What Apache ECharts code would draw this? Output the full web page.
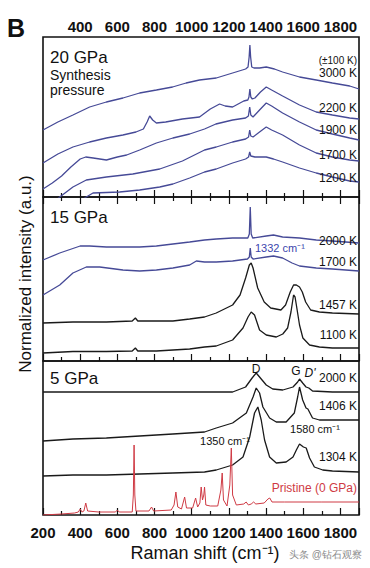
<!DOCTYPE html>
<html><head><meta charset="utf-8">
<script src="https://cdn.jsdelivr.net/npm/echarts@6/dist/echarts.min.js"></script>
<style>html,body{margin:0;padding:0;background:#fff}#c{width:370px;height:568px}</style>
</head><body><div id="c"></div>
<script>
// ---- tick labels (Raman shift, cm-1) ----
const xTickLabels = [200, 400, 600, 800, 1000, 1200, 1400, 1600, 1800];
const xMin = 200, xMax = 1900;

// ---- 20 GPa panel: [Raman shift, normalized intensity (offset)] ----
const p20_3000K = [[200,67],[280,75],[361,82],[451,90],[541,95],[630,99],[720,104],[810,107],[897,110],[970,114],[1042,117],[1132,119],[1220,124],[1290,128],[1303,130],[1309,140],[1313,152],[1317,140],[1323,130],[1335,129],[1365,129],[1401,130],[1445,128],[1489,125],[1580,120],[1670,117],[1757,114],[1850,111],[1900,108]];
const p20_2200K = [[200,34],[280,43],[361,50],[451,55],[541,59],[630,62],[700,65],[740,68],[760,75],[774,81],[790,77],[810,74],[860,75],[950,78],[1042,80],[1100,88],[1150,93],[1180,91],[1220,90],[1280,96],[1302,97],[1308,100],[1313,108],[1318,100],[1326,98],[1340,99],[1370,105],[1401,110],[1430,107],[1489,101],[1580,92],[1670,85],[1757,82],[1850,79],[1900,78]];
const p20_1900K = [[200,8],[250,14],[300,21],[350,30],[400,38],[430,40],[470,39],[541,37],[600,40],[650,42],[720,47],[810,54],[899,59],[989,63],[1069,68],[1130,73],[1220,77],[1290,79],[1305,81],[1312,90],[1318,82],[1330,80],[1365,87],[1401,94],[1430,91],[1489,84],[1580,75],[1670,67],[1757,63],[1850,59],[1900,57]];
const p20_1700K = [[200,-14],[250,-6],[290,0],[361,10],[433,17],[541,20],[683,23],[828,28],[950,36],[1069,47],[1132,50],[1220,55],[1290,58],[1306,60],[1312,67],[1318,61],[1330,60],[1365,65],[1401,70],[1430,67],[1489,62],[1580,52],[1670,44],[1757,40],[1850,37],[1900,36]];
const p20_1200K = [[200,-30],[330,-12],[433,0],[469,4],[612,5],[720,7],[828,10],[899,13],[989,19],[1069,25],[1132,28],[1220,34],[1290,38],[1306,40],[1312,45],[1318,41],[1340,40],[1401,40],[1440,38],[1489,35],[1580,29],[1670,24],[1757,20],[1850,16],[1900,15]];

// ---- 15 GPa panel ----
const p15_2000K = [[200,101],[290,108],[400,115],[451,115],[541,114],[630,114],[720,114],[810,115],[899,117],[989,119],[1069,121],[1132,122],[1220,123],[1302,123],[1310,127],[1315,154],[1320,127],[1328,123],[1401,125],[1440,126],[1489,124],[1580,123],[1670,121],[1757,120],[1900,118]];
const p15_1700K = [[200,66],[290,76],[361,88],[433,94],[505,94],[630,91],[720,90],[810,91],[899,93],[989,96],[1025,100],[1069,99],[1132,99],[1220,100],[1300,102],[1310,104],[1315,113],[1320,104],[1330,102],[1401,104],[1440,105],[1489,103],[1540,98],[1580,95],[1670,93],[1757,92],[1900,90]];
const p15_1457K = [[200,38],[361,39],[541,39],[680,40],[697,43],[710,40],[810,40],[899,40],[989,42],[1069,44],[1132,48],[1220,56],[1260,66],[1290,83],[1310,96],[1320,98],[1330,93],[1355,73],[1390,59],[1425,53],[1480,51],[1505,56],[1530,69],[1548,76],[1563,76],[1580,74],[1595,69],[1613,59],[1640,51],[1687,49],[1757,48],[1900,47]];
const p15_1100K = [[200,8],[361,9.5],[541,9.5],[680,10],[697,13],[710,10],[810,10],[989,12],[1069,14],[1132,15],[1220,21],[1276,33],[1303,44],[1320,49],[1338,46],[1365,31],[1401,26],[1455,24],[1490,27],[1516,33],[1534,49],[1548,66],[1556,64],[1563,56],[1580,36],[1598,23],[1634,16],[1687,14],[1757,13],[1900,13]];

// ---- 5 GPa panel ----
const p5_2000K = [[200,123],[600,123],[1000,123],[1220,123],[1290,128],[1325,137],[1347,142],[1365,138],[1401,130],[1436,126],[1490,125],[1545,128],[1570,133],[1580,136],[1597,132],[1615,128],[1630,127],[1650,124],[1757,123],[1900,123]];
const p5_1406K = [[200,74],[361,76],[541,77],[720,79],[899,81],[1069,83],[1132,87],[1220,92],[1294,102],[1330,118],[1347,127],[1365,122],[1383,108],[1419,97],[1455,93],[1508,93],[1552,102],[1570,118],[1580,128],[1597,115],[1615,107],[1625,106],[1650,97],[1687,95],[1757,95],[1900,95]];
const p5_1304K = [[200,39],[361,40],[541,40],[720,41],[899,42],[1069,43],[1132,45],[1220,50],[1276,58],[1312,78],[1338,102],[1356,108],[1374,95],[1392,75],[1419,58],[1455,52],[1508,53],[1545,58],[1563,65],[1580,71],[1601,68],[1616,67],[1634,57],[1660,48],[1705,45],[1757,44],[1900,43]];
const p0_pristine = [[200,0],[300,1],[370,2],[390,3],[400,6],[410,3],[420,4],[430,12],[440,4],[500,3],[590,3],[600,5],[610,3],[680,3],[686,20],[690,70],[694,20],[700,4],[770,4],[784,8],[795,4],[890,5],[905,10],[915,23],[925,8],[945,6],[962,18],[972,7],[1005,7],[1021,17],[1032,8],[1044,12],[1051,28],[1058,15],[1065,20],[1069,28],[1076,10],[1100,9],[1140,9],[1157,25],[1164,42],[1171,15],[1190,9],[1205,30],[1213,67],[1220,20],[1240,10],[1280,11],[1293,13],[1305,10],[1320,11],[1333,13],[1345,11],[1390,12],[1410,16],[1420,17],[1432,13],[1500,13],[1700,13],[1900,13]];

const FONT = '"Liberation Sans", Arial, sans-serif';
const BLUE = '#464a97', BLACK = '#1a1a1a', RED = '#cf3a44';
const grids = [
  {left: 43, width: 316, top: 37, height: 160},
  {left: 43, width: 316, top: 197, height: 164},
  {left: 43, width: 316, top: 361, height: 154}
];
const yMax = [160, 164, 154];

function xAxis(gridIndex, position, showLabels, opts) {
  return Object.assign({
    type: 'value', gridIndex, position, min: xMin, max: xMax, interval: 200,
    axisLine: {show: false},
    splitLine: {show: false},
    axisTick: {show: true, inside: true, length: 7, lineStyle: {color: '#111', width: 1.2}},
    minorTick: {show: true, splitNumber: 2, length: 4, lineStyle: {color: '#111', width: 1.2}},
    axisLabel: {
      show: showLabels, color: '#111', fontFamily: FONT, fontSize: 15, fontWeight: 'bold',
      formatter: v => xTickLabels.includes(v) ? String(v) : ''
    }
  }, opts || {});
}

const xAxes = [
  xAxis(0, 'top', true, {axisLabel: {show: true, margin: 3, color: '#111', fontFamily: FONT, fontSize: 15, fontWeight: 'bold', showMinLabel: false, showMaxLabel: false, formatter: v => (xTickLabels.includes(v) && v !== 200) ? String(v) : ''}}),
  xAxis(0, 'bottom', false),
  xAxis(1, 'bottom', false),
  xAxis(2, 'bottom', true, {axisLabel: {show: true, margin: 10, color: '#111', fontFamily: FONT, fontSize: 15, fontWeight: 'bold', showMaxLabel: false, formatter: v => xTickLabels.includes(v) ? String(v) : ''}})
];
const yAxes = yMax.map((m, i) => ({type: 'value', gridIndex: i, min: 0, max: m, show: false}));

function line(data, xi, yi, color, w) {
  return {type: 'line', data, xAxisIndex: xi, yAxisIndex: yi, showSymbol: false, symbol: 'none',
    clip: true, silent: true, lineStyle: {color, width: w || 1.3}, animation: false};
}
const series = [
  line(p20_3000K, 0, 0, BLUE), line(p20_2200K, 0, 0, BLUE), line(p20_1900K, 0, 0, BLUE),
  line(p20_1700K, 0, 0, BLUE), line(p20_1200K, 0, 0, BLUE),
  line(p15_2000K, 2, 1, BLUE), line(p15_1700K, 2, 1, BLUE),
  line(p15_1457K, 2, 1, BLACK), line(p15_1100K, 2, 1, BLACK),
  line(p5_2000K, 3, 2, BLACK), line(p5_1406K, 3, 2, BLACK), line(p5_1304K, 3, 2, BLACK),
  line(p0_pristine, 3, 2, RED, 1)
];

function txt(text, x, y, size, opt) {
  opt = opt || {};
  return {type: 'text', x, y, rotation: opt.rot || 0, silent: true, z: 100,
    style: {text, fill: opt.color || '#111', font: (opt.style || '') + ' ' + (opt.weight || 'normal') + ' ' + size + 'px ' + FONT,
      align: opt.align || 'right', verticalAlign: 'middle'}};
}
const graphics = [
  txt('B', 7, 28, 25, {align: 'left', weight: 'bold'}),
  txt('20 GPa', 50, 57, 17, {align: 'left'}),
  txt('Synthesis', 50, 75, 14, {align: 'left'}),
  txt('pressure', 50, 90, 14, {align: 'left'}),
  txt('(±100 K)', 357, 60, 10),
  txt('3000 K', 357, 73, 12),
  txt('2200 K', 357, 108, 12),
  txt('1900 K', 357, 130, 12),
  txt('1700 K', 357, 155, 12),
  txt('1200 K', 357, 178, 12),
  txt('15 GPa', 50, 217, 17, {align: 'left'}),
  txt('2000 K', 357, 241, 12),
  txt('1332 cm⁻¹', 255, 248, 11, {align: 'left', color: '#3b45ad'}),
  txt('1700 K', 357, 262, 12),
  txt('1457 K', 357, 305, 12),
  txt('1100 K', 357, 335, 12),
  txt('5 GPa', 50, 378, 17, {align: 'left'}),
  txt('D', 256, 369, 12, {align: 'center'}),
  txt('G', 296, 371, 12, {align: 'center'}),
  txt("D'", 310, 373, 12, {align: 'center', style: 'italic'}),
  txt('2000 K', 357, 378, 12),
  txt('1406 K', 357, 406, 12),
  txt('1580 cm⁻¹', 315, 429, 11, {align: 'center'}),
  txt('1350 cm⁻¹', 225, 441, 11, {align: 'center'}),
  txt('1304 K', 357, 457, 12),
  txt('Pristine (0 GPa)', 357, 488, 12, {color: RED}),
  txt('Normalized intensity (a.u.)', 25, 274, 17, {align: 'center', rot: Math.PI / 2}),
  txt('Raman shift (cm⁻¹)', 205, 553, 18, {align: 'center'}),
  txt('头条 @钻石观察', 362, 554, 10, {color: '#8a8a8a', align: 'right'})
];

const chart = echarts.init(document.getElementById('c'), null, {renderer: 'svg', width: 370, height: 568});
chart.setOption({
  animation: false,
  backgroundColor: '#fff',
  grid: grids.map(g => Object.assign({show: true, borderColor: '#111', borderWidth: 1.6, backgroundColor: 'transparent'}, g)),
  xAxis: xAxes,
  yAxis: yAxes,
  series,
  graphic: graphics
});
</script>
</body></html>
